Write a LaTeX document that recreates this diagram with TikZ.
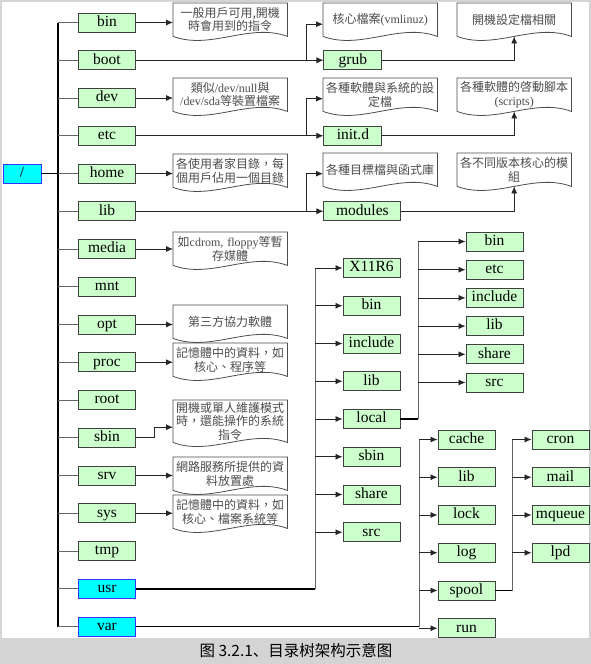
\documentclass[tikz,border=0pt]{standalone}
\usepackage{fontspec}
\setmainfont{Liberation Serif}
\newfontfamily\cjk{Noto Sans CJK TC}
\newfontfamily\capcjk{Noto Sans CJK SC}
\usetikzlibrary{arrows.meta, positioning}
\definecolor{dirgreen}{HTML}{CCFFCC}
\definecolor{dircyan}{HTML}{00FFFF}
\definecolor{dirblue}{HTML}{3333FF}
\definecolor{framegray}{HTML}{D4D4D4}

\begin{document}
\begin{tikzpicture}[
    x=1pt, y=1pt,
    node distance=17.85pt,
    dirbox/.style={rectangle, draw=black!75, fill=dirgreen, line width=0.9pt,
      minimum width=57pt, minimum height=19pt, inner sep=2pt,
      text height=10.5pt, text depth=3pt, font=\fontsize{15.5}{17}\selectfont},
    hotbox/.style={dirbox, draw=dirblue, fill=dircyan},
    docbox/.style={rectangle, anchor=north west, text width=110pt, minimum width=114pt,
      minimum height=33pt, inner sep=2pt, align=center, text=black!70,
      font=\fontsize{12}{13.5}\selectfont\cjk},
    docline/.style={draw=black!70, line width=0.8pt},
    trunk/.style={line width=1.5pt},
    branch/.style={line width=0.8pt, draw=black!60},
    arrow/.style={-{Latex[length=7pt,width=6pt]}, line width=0.8pt, draw=black!85}
  ]
    % frame and caption band
    \fill[framegray] (0,0) rectangle (591,-664);
    \fill[white] (2,-1.5) rectangle (588.5,-637.5);
    \useasboundingbox (0,0) rectangle (591,-664);
    \node[font=\fontsize{15.5}{17}\selectfont\capcjk] (caption) at (296,-651) {图 3.2.1、目录树架构示意图};

    % root and first level
    \node[hotbox, minimum width=38pt] (fsroot) at (22,-173.5) {/};
    \node[dirbox] (bin) at (107,-22.5) {bin};
    \node[dirbox, below=of bin] (boot) {boot};
    \node[dirbox, below=of boot] (dev) {dev};
    \node[dirbox, below=of dev] (etc) {etc};
    \node[dirbox, below=of etc] (home) {home};
    \node[dirbox, below=of home] (lib) {lib};
    \node[dirbox, below=of lib] (media) {media};
    \node[dirbox, below=of media] (mnt) {mnt};
    \node[dirbox, below=of mnt] (opt) {opt};
    \node[dirbox, below=of opt] (proc) {proc};
    \node[dirbox, below=of proc] (root) {root};
    \node[dirbox, below=of root] (sbin) {sbin};
    \node[dirbox, below=of sbin] (srv) {srv};
    \node[dirbox, below=of srv] (sys) {sys};
    \node[dirbox, below=of sys] (tmp) {tmp};
    \node[hotbox, below=of tmp] (usr) {usr};
    \node[hotbox, below=of usr] (var) {var};

    % notes on the left
    \node[docbox] (dbin) at (173,-3) {一般用戶可用,開機\\時會用到的指令};
    \node[docbox] (ddev) at (173,-78) {類似{\rmfamily /dev/null}與\\{\rmfamily /dev/sda}等裝置檔案};
    \node[docbox] (dhome) at (173,-154) {各使用者家目錄，每\\個用戶佔用一個目錄};
    \node[docbox] (dmedia) at (173,-232) {如{\rmfamily cdrom, floppy}等暫\\存媒體};
    \node[docbox] (dopt) at (173,-305) {第三方協力軟體};
    \node[docbox] (dproc) at (173,-343) {記憶體中的資料，如\\核心、程序等};
    \node[docbox] (dsbin) at (173,-400) {開機或單人維護模式\\時，還能操作的系統\\指令};
    \node[docbox] (dsrv) at (173,-457) {網路服務所提供的資\\料放置處};
    \node[docbox] (dsys) at (173,-495) {記憶體中的資料，如\\核心、檔案系統等};

    % boot, etc, lib subtrees
    \node[dirbox, minimum width=58pt, right=187.5pt of boot] (grub) {grub};
    \node[dirbox, minimum width=58pt, right=187.5pt of etc] (initd) {init.d};
    \node[dirbox, minimum width=77pt, right=187.5pt of lib] (modules) {modules};
    \node[docbox] (dkernel) at (323,-3) {核心檔案{\rmfamily (vmlinuz)}};
    \node[docbox] (dgrub) at (457,-3) {開機設定檔相關};
    \node[docbox] (dconf) at (323,-78) {各種軟體與系統的設\\定檔};
    \node[docbox] (dscripts) at (457,-78) {各種軟體的啓動腳本\\{\rmfamily (scripts)}};
    \node[docbox] (dlibs) at (323,-153) {各種目標檔與函式庫};
    \node[docbox] (dmods) at (457,-153) {各不同版本核心的模\\組};

    % usr subtree
    \node[dirbox] (uX) at (371.5,-268) {X11R6};
    \node[dirbox, below=of uX] (ubin) {bin};
    \node[dirbox, below=of ubin] (uinc) {include};
    \node[dirbox, below=of uinc] (ulib) {lib};
    \node[dirbox, below=of ulib] (local) {local};
    \node[dirbox, below=of local] (usbin) {sbin};
    \node[dirbox, below=of usbin] (ushare) {share};
    \node[dirbox, below=of ushare] (usrc) {src};

    \node[dirbox] (lbin) at (494.5,-241.5) {bin};
    \node[dirbox, below=8.3pt of lbin] (letc) {etc};
    \node[dirbox, below=8.3pt of letc] (linc) {include};
    \node[dirbox, below=8.3pt of linc] (llib) {lib};
    \node[dirbox, below=8.3pt of llib] (lshare) {share};
    \node[dirbox, below=8.3pt of lshare] (lsrc) {src};

    % var subtree
    \node[dirbox] (cache) at (466.5,-439.5) {cache};
    \node[dirbox, below=of cache] (vlib) {lib};
    \node[dirbox, below=of vlib] (lock) {lock};
    \node[dirbox, below=of lock] (log) {log};
    \node[dirbox, below=of log] (spool) {spool};
    \node[dirbox, below=of spool] (run) {run};

    \node[dirbox] (cron) at (560.5,-439.5) {cron};
    \node[dirbox, below=of cron] (mail) {mail};
    \node[dirbox, below=of mail] (mqueue) {mqueue};
    \node[dirbox, below=of mqueue] (lpd) {lpd};

    % wavy bottoms of the notes
    \foreach \d in {dbin,ddev,dhome,dmedia,dopt,dproc,dsbin,dsrv,dsys,dkernel,dgrub,dconf,dscripts,dlibs,dmods}
      \draw[docline] (\d.south west) -- (\d.north west) -- (\d.north east) -- (\d.south east)
        .. controls +(-38,14) and +(38,-14) .. (\d.south west);

    % trunk
    \coordinate (trunk) at (58,0);
    \draw[trunk] (fsroot.east) -- (fsroot.east -| trunk);
    \draw[trunk] (bin.west -| trunk) -- (var.west -| trunk);
    \foreach \n in {bin,boot,dev,etc,home,lib,media,mnt,opt,proc,root,sbin,srv,sys,tmp,usr,var}
      \draw[branch] (\n.west -| trunk) -- (\n.west);

    % notes
    \foreach \n in {bin,dev,home,media,opt,proc,srv,sys}
      \draw[arrow] (\n.east) -- (\n.east -| d\n.west);
    \draw[arrow] (sbin.east) -- ++(18,0) |- ([yshift=-6pt]dsbin.west);

    \coordinate (fork) at (306,0);
    \draw[arrow] (boot.east) -- (grub.west);
    \draw[arrow] (boot.east -| fork) |- ([yshift=-4.5pt]dkernel.west);
    \draw[arrow] (grub.east) -| (dgrub.south);
    \draw[arrow] (etc.east) -- (initd.west);
    \draw[arrow] (etc.east -| fork) |- ([yshift=-4pt]dconf.west);
    \draw[arrow] (initd.east) -| (dscripts.south);
    \draw[arrow] (lib.east) -- (modules.west);
    \draw[arrow] (lib.east -| fork) |- ([yshift=-4pt]dlibs.west);
    \draw[arrow] (modules.east) -| (dmods.south);

    % usr
    \coordinate (usrbus) at (315,0);
    \draw[trunk] (usr.east) -- (usr.east -| usrbus);
    \draw[branch] (usr.east -| usrbus) -- (uX.west -| usrbus);
    \foreach \n in {uX,ubin,uinc,ulib,local,usbin,ushare,usrc}
      \draw[arrow] (\n.west -| usrbus) -- (\n.west);

    \coordinate (localbus) at (418,0);
    \draw[trunk] (local.east) -- (local.east -| localbus);
    \draw[branch] (local.east -| localbus) -- (lbin.west -| localbus);
    \foreach \n in {lbin,letc,linc,llib,lshare,lsrc}
      \draw[arrow] (\n.west -| localbus) -- (\n.west);

    % var
    \coordinate (varbus) at (419,0);
    \draw[trunk] (var.east) -- (var.east -| varbus);
    \draw[branch] (var.east -| varbus) -- (cache.west -| varbus);
    \foreach \n in {cache,vlib,lock,log,spool,run}
      \draw[arrow] (\n.west -| varbus) -- (\n.west);

    \coordinate (spoolbus) at (512,0);
    \draw[trunk] (spool.east) -- (spool.east -| spoolbus);
    \draw[branch] (spool.east -| spoolbus) -- (cron.west -| spoolbus);
    \foreach \n in {cron,mail,mqueue,lpd}
      \draw[arrow] (\n.west -| spoolbus) -- (\n.west);
  \end{tikzpicture}
\end{document}
